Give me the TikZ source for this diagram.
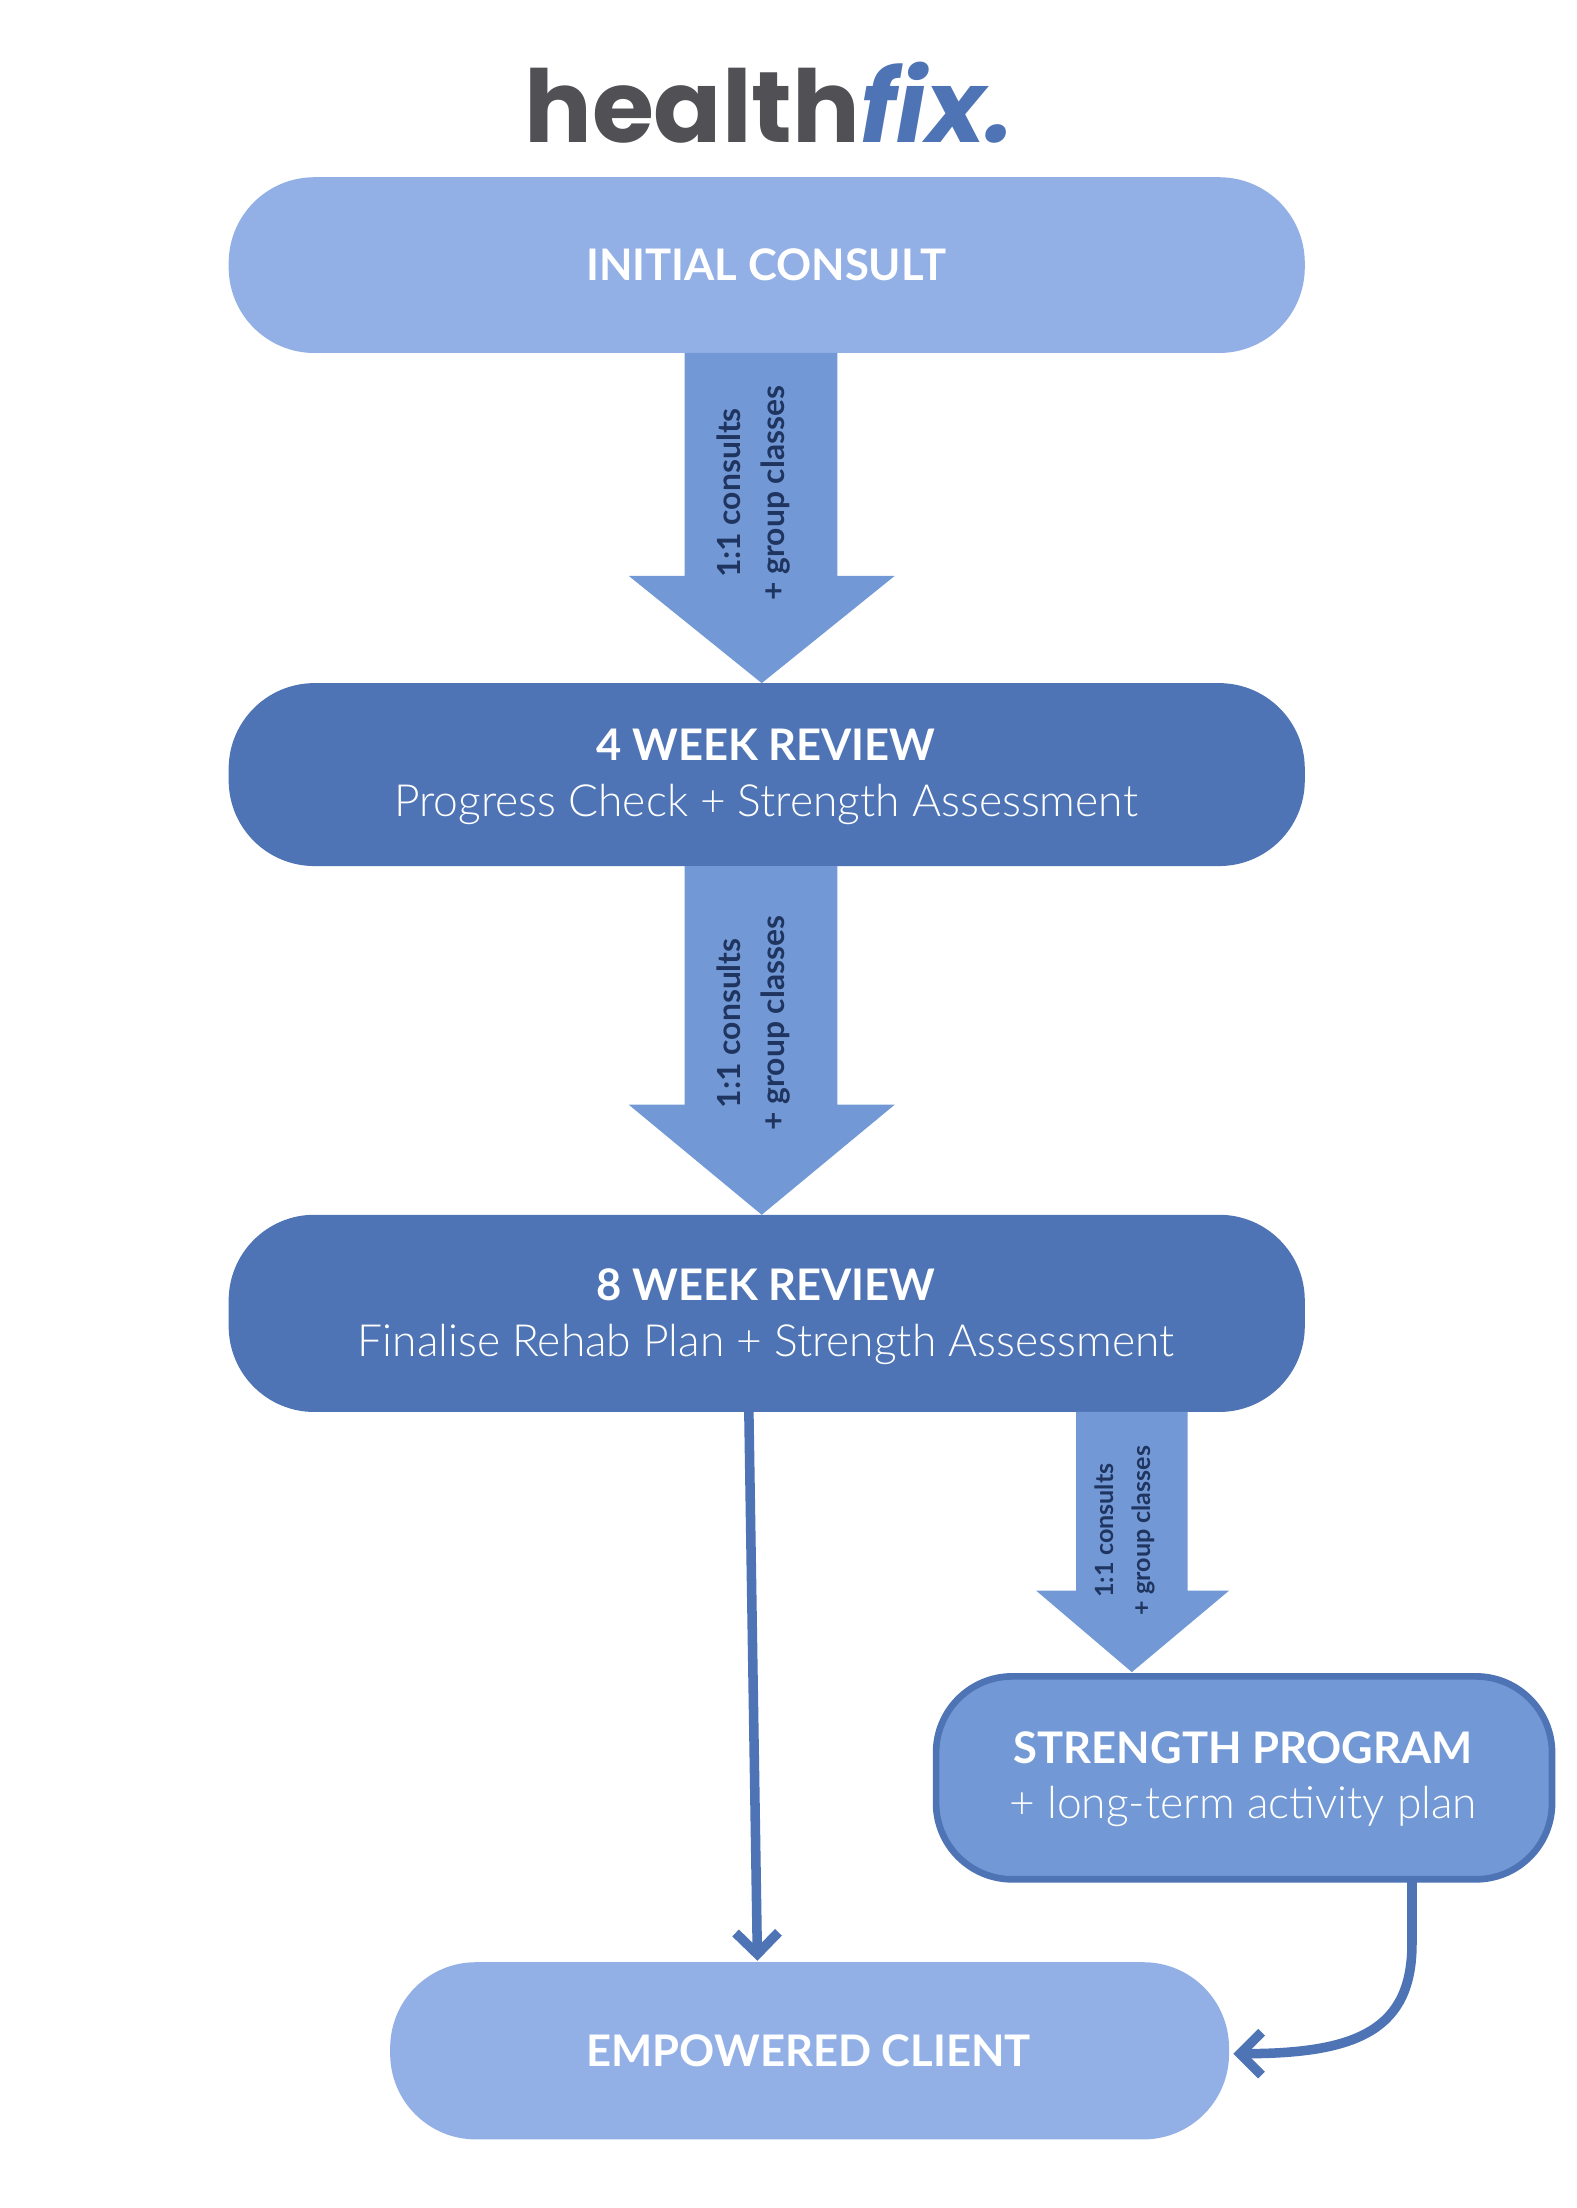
\documentclass[tikz,border=0pt]{standalone}
\usepackage{fontspec}
\setmainfont{Lato}
\newfontfamily\pop{Poppins}
\newfontfamily\lightf{Lato Light}
\usetikzlibrary{arrows.meta}
\definecolor{light}{HTML}{92B0E6}
\definecolor{mid}{HTML}{7299D6}
\definecolor{dark}{HTML}{4E74B5}
\definecolor{navy}{HTML}{1F3560}
\definecolor{gray}{HTML}{505055}
\begin{document}
\begin{tikzpicture}[x=0.03cm,y=-0.03cm,
 box/.style={rounded corners=1.8cm},
 big/.style={font=\bfseries\fontsize{26}{28}\selectfont,text=white},
 sub/.style={font=\lightf\fontsize{26.5}{28}\selectfont,text=white},
 lab/.style={font=\bfseries\fontsize{19}{21}\selectfont,text=navy,rotate=90},
 labs/.style={font=\bfseries\fontsize{15}{17}\selectfont,text=navy,rotate=90},
 conn/.style={draw=dark,line width=2mm,-{Straight Barb[length=4.5mm,width=9mm,line width=2mm]}}]
\useasboundingbox (0,0) rectangle (1103,1545);
\fill[white] (0,0) rectangle (1103,1545);
\node (title) at (538,72) {\pop\bfseries\fontsize{60}{62}\selectfont\textcolor{gray}{health}\textcolor{dark}{\itshape fix.}};
% boxes
\fill[light,box] (160,124) rectangle (913,247);
\node[big] (ic) at (536,185) {INITIAL CONSULT};
\fill[dark,box] (160,478) rectangle (913,606);
\node[big] (w4) at (536,521) {4 WEEK REVIEW};
\node[sub] (w4s) at (536,563) {Progress Check + Strength Assessment};
\fill[dark,box] (160,850) rectangle (913,988);
\node[big] (w8) at (536,899) {8 WEEK REVIEW};
\node[sub] (w8s) at (536,941) {Finalise Rehab Plan + Strength Assessment};
\filldraw[fill=mid,draw=dark,line width=1.4mm,rounded corners=1.6cm] (655,1173) rectangle (1086,1315);
\node[big] (sp) at (870,1223) {STRENGTH PROGRAM};
\node[sub] (sps) at (870,1264) {+ long-term activity plan};
\fill[light,box] (273,1373) rectangle (860,1497);
\node[big] (ec) at (566,1435) {EMPOWERED CLIENT};
% block arrows
\fill[mid] (479,247) -- (586,247) -- (586,403) -- (626,403) -- (533,478) -- (440,403) -- (479,403) -- cycle;
\node[lab] (a1a) at (510,345) {1:1 consults};
\node[lab] (a1b) at (543,345) {+ group classes};
\fill[mid] (479,606) -- (586,606) -- (586,773) -- (626,773) -- (533,850) -- (440,773) -- (479,773) -- cycle;
\node[lab] (a2a) at (510,716) {1:1 consults};
\node[lab] (a2b) at (543,716) {+ group classes};
\fill[mid] (753,988) -- (831,988) -- (831,1113) -- (860,1113) -- (792,1170) -- (725,1113) -- (753,1113) -- cycle;
\node[labs] (a3a) at (773,1071) {1:1 consults};
\node[labs] (a3b) at (800,1071) {+ group classes};
% connectors
\coordinate (s1) at (524,988);
\coordinate (e1) at (530,1372);
\draw[conn] (s1) -- (e1);
\coordinate (s2) at (988,1317);
\coordinate (e2) at (863,1437);
\draw[conn] (s2) -- (988,1360) .. controls (988,1420) and (950,1437) .. (e2);
\end{tikzpicture}
\end{document}
